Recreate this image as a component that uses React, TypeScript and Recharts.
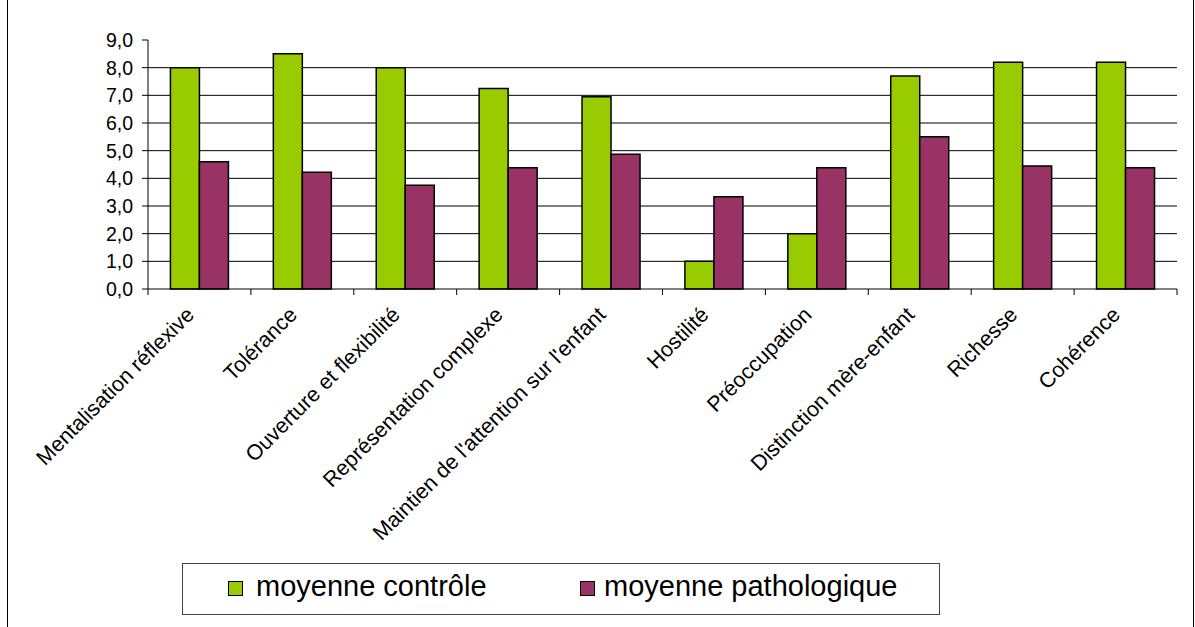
import { BarChart, Bar, XAxis, YAxis, CartesianGrid } from 'recharts';

const categories = [
  'Mentalisation réflexive',
  'Tolérance',
  'Ouverture et flexibilité',
  'Représentation complexe',
  "Maintien de l'attention sur l'enfant",
  'Hostilité',
  'Préoccupation',
  'Distinction mère-enfant',
  'Richesse',
  'Cohérence',
];
const controle = [8.0, 8.5, 8.0, 7.25, 6.95, 1.0, 2.0, 7.7, 8.2, 8.2];
const pathologique = [4.6, 4.22, 3.75, 4.38, 4.87, 3.33, 4.38, 5.5, 4.45, 4.38];
const yTicks = [0, 1, 2, 3, 4, 5, 6, 7, 8, 9];
const gridValues = [1, 2, 3, 4, 5, 6, 7, 8];

const W = 1195;
const H = 627;
const PLOT_LEFT = 148;
const PLOT_RIGHT = 1177;
const PLOT_TOP = 40;
const PLOT_BOTTOM = 289;
const BAND = (PLOT_RIGHT - PLOT_LEFT) / categories.length;
const FONT = '"Liberation Sans", Arial, sans-serif';

const data = categories.map((name, i) => ({
  name,
  controle: controle[i],
  pathologique: pathologique[i],
}));

const XTick = ({ x, payload, index }: any) => {
  const half = BAND / 2;
  const last = index === categories.length - 1;
  const tx = x - 4;
  const ty = PLOT_BOTTOM + 27;
  return (
    <g>
      <line x1={x - half} x2={x - half} y1={PLOT_BOTTOM} y2={PLOT_BOTTOM + 6} stroke="#000" />
      {last && <line x1={x + half} x2={x + half} y1={PLOT_BOTTOM} y2={PLOT_BOTTOM + 6} stroke="#000" />}
      <text
        x={tx}
        y={ty}
        textAnchor="end"
        fontSize={21.5}
        fontFamily={FONT}
        fill="#000"
        transform={`rotate(-45, ${tx}, ${ty})`}
      >
        {payload.value}
      </text>
    </g>
  );
};

export default function App() {
  return (
    <div style={{ position: 'absolute', left: 0, top: 0, width: W, height: H, background: '#fff', overflow: 'hidden' }}>
      <div
        style={{
          position: 'absolute',
          left: 7,
          top: -3,
          width: 1187,
          height: H + 10,
          border: '1px solid #000',
          boxSizing: 'border-box',
        }}
      />
      <BarChart
        width={W}
        height={H}
        data={data}
        margin={{ top: PLOT_TOP, right: W - PLOT_RIGHT, left: 0, bottom: 0 }}
        barCategoryGap="21.8%"
        barGap={0}
        style={{ position: 'absolute', left: 0, top: 0 }}
      >
        <CartesianGrid horizontal vertical={false} horizontalValues={gridValues} stroke="#000" strokeOpacity={1} />
        <XAxis
          dataKey="name"
          interval={0}
          height={H - PLOT_BOTTOM}
          axisLine={{ stroke: '#000' }}
          tickLine={false}
          tick={<XTick />}
        />
        <YAxis
          width={PLOT_LEFT}
          domain={[0, 9]}
          ticks={yTicks}
          interval={0}
          axisLine={{ stroke: '#000' }}
          tickLine={{ stroke: '#000' }}
          tickSize={6}
          tickMargin={9}
          tick={{ fill: '#000', fontSize: 19.5, fontFamily: FONT }}
          tickFormatter={(v: number) => v.toFixed(1).replace('.', ',')}
        />
        <Bar dataKey="controle" name="moyenne contrôle" fill="#99CC00" stroke="#000" strokeWidth={1.5} isAnimationActive={false} />
        <Bar dataKey="pathologique" name="moyenne pathologique" fill="#993366" stroke="#000" strokeWidth={1.5} isAnimationActive={false} />
      </BarChart>
      <div
        style={{
          position: 'absolute',
          left: 182,
          top: 563,
          width: 758,
          height: 52,
          border: '1px solid #444',
          boxSizing: 'border-box',
          fontFamily: FONT,
          fontSize: 29,
          color: '#000',
        }}
      >
        <div style={{ position: 'absolute', left: 45, top: 17, width: 13, height: 13, background: '#99CC00', border: '1.5px solid #000' }} />
        <div style={{ position: 'absolute', left: 73, top: 6, whiteSpace: 'nowrap' }}>moyenne contrôle</div>
        <div style={{ position: 'absolute', left: 397, top: 17, width: 13, height: 13, background: '#993366', border: '1.5px solid #000' }} />
        <div style={{ position: 'absolute', left: 421, top: 6, whiteSpace: 'nowrap' }}>moyenne pathologique</div>
      </div>
    </div>
  );
}
